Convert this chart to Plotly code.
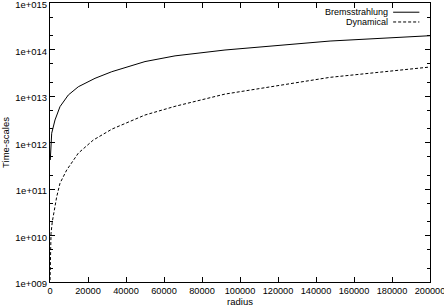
import plotly.graph_objects as go

# Data
brems_r = [150, 370, 895, 2630, 5260, 9630, 14900, 23700, 32500, 50000, 65800, 92100, 147400, 200000]
brems_t = [4.2e11, 8.1e11, 1.58e12, 3.05e12, 5.9e12, 1.05e13, 1.58e13, 2.4e13, 3.33e13,
           5.5e13, 7.3e13, 9.75e13, 1.52e14, 1.98e14]

dyn_r = [30, 160, 530, 1210, 2260, 3530, 5260, 8790, 14900, 22800, 32700, 41200, 50000,
         65800, 92100, 147400, 200000]
dyn_t = [1.1e9, 5.7e9, 1.1e10, 1.98e10, 3.5e10, 6.8e10, 1.33e11, 2.56e11, 5.9e11, 1.13e12,
         1.95e12, 2.75e12, 3.9e12, 6.0e12, 1.10e13, 2.52e13, 4.2e13]

series_names = ["Bremsstrahlung", "Dynamical"]

x_tickvals = [0, 20000, 40000, 60000, 80000, 100000, 120000, 140000, 160000, 180000, 200000]
x_ticktext = [str(v) for v in x_tickvals]
y_tickvals = [1e9, 1e10, 1e11, 1e12, 1e13, 1e14, 1e15]
y_ticktext = ["1e+009", "1e+010", "1e+011", "1e+012", "1e+013", "1e+014", "1e+015"]

FONT = "Liberation Sans, Arial, Helvetica, sans-serif"

fig = go.Figure()
fig.add_trace(go.Scatter(x=brems_r, y=brems_t, mode="lines", name=series_names[0],
                         line=dict(color="black", width=1),
                         showlegend=False))
fig.add_trace(go.Scatter(x=dyn_r, y=dyn_t, mode="lines", name=series_names[1],
                         line=dict(color="black", width=1, dash="3px,2px"),
                         showlegend=False))

axis_common = dict(showline=True, linecolor="black", linewidth=1, mirror="ticks",
                   ticks="inside", ticklen=5, tickcolor="black", tickwidth=1,
                   showgrid=False, zeroline=False, automargin=False,
                   ticklabeloverflow="allow")

fig.update_xaxes(range=[0, 200000], tickmode="array", tickvals=x_tickvals, ticktext=x_ticktext,
                 tickfont=dict(family=FONT, size=9.2, color="black"),
                 title=dict(text="radius", font=dict(family=FONT, size=9.5, color="black"), standoff=0),
                 **axis_common)
fig.update_yaxes(type="log", range=[9, 15], tickmode="array", tickvals=y_tickvals, ticktext=y_ticktext,
                 tickfont=dict(family=FONT, size=9.5, color="black"), ticklabelshift=2,
                 minor=dict(ticks="inside", ticklen=3, tickcolor="black", dtick="D2", showgrid=False),
                 title=dict(text="Time-scales", font=dict(family=FONT, size=9.5, color="black"), standoff=4),
                 **axis_common)

# gnuplot-style key: right-aligned text with line sample on the right
key_rows = [(series_names[0], "solid", 0.967), (series_names[1], "3px,2px", 0.932)]
for name, dash, yp in key_rows:
    fig.add_annotation(xref="paper", yref="paper", x=0.895, y=yp, text=name, showarrow=False,
                       xanchor="right", yanchor="middle", font=dict(family=FONT, size=9, color="black"))
    fig.add_shape(type="line", xref="paper", yref="paper", x0=0.903, x1=0.972, y0=yp, y1=yp,
                  line=dict(color="black", width=1, dash=dash))

fig.update_layout(width=444, height=307, margin=dict(l=50, r=14, t=3, b=25),
                  plot_bgcolor="white", paper_bgcolor="white",
                  font=dict(family=FONT, size=9.5, color="black"))

fig.write_html("out.html", config={"displayModeBar": False},
               post_script="document.body.style.margin='0';document.body.style.overflow='hidden';")
